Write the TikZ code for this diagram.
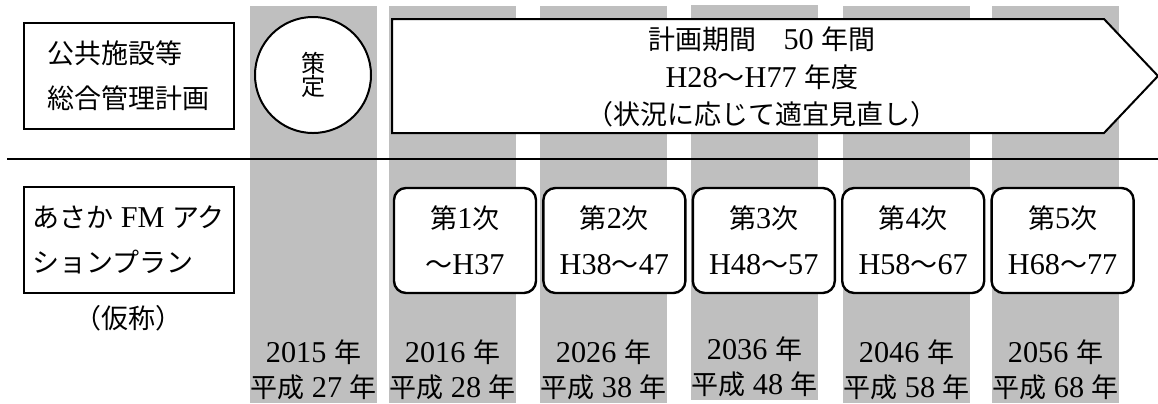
\documentclass[tikz,border=0pt]{standalone}
\usepackage{fontspec}
\setmainfont{Liberation Serif}[Scale=1.12]
\newfontfamily\jp{Noto Sans CJK JP}
\usetikzlibrary{positioning}

\begin{document}
\begin{tikzpicture}[x=0.5pt,y=-0.5pt,
  band/.style={fill=black!25},
  sidebox/.style={draw,line width=1pt,minimum width=105pt,minimum height=53pt,align=left,font=\fontsize{13.5}{22.5}\selectfont},
  stagebox/.style={draw,line width=1.2pt,rounded corners=6pt,minimum width=71pt,minimum height=52.5pt,align=center,font=\fontsize{13.5}{23}\selectfont},
  yearlabel/.style={align=center,inner sep=0pt,font=\fontsize{13.5}{17.5}\selectfont}]
 \useasboundingbox (0,0) rectangle (1158,403);
 % gray year columns
 \fill[band] (250,6) rectangle (377,403);
 \fill[band] (389,6) rectangle (516,403);
 \fill[band] (540,6) rectangle (667,403);
 \fill[band] (691,5) rectangle (818,400);
 \fill[band] (843,6) rectangle (970,403);
 \fill[band] (992,6) rectangle (1119,403);
 % upper row
 \node[sidebox] (plan) at (128.5,76) {{\jp 公共施設等}\\{\jp 総合管理計画}};
 \node[draw,circle,fill=white,line width=1pt,minimum size=58pt,inner sep=0pt,align=center,font=\fontsize{12}{11.5}\selectfont] (sakutei) at (313,75) {{\jp 策}\\{\jp 定}};
 \draw[line width=1pt,fill=white](392,19)--(1104,19)--(1158,76)--(1104,133)--(392,133)--cycle;
 \node[align=center,font=\fontsize{13.5}{18.75}\selectfont] (period) at (762,77)
   {{\jp 計画期間　}50 {\jp 年間}\\H28{\jp ～}H77 {\jp 年度}\\{\jp （状況に応じて適宜見直し）}};
 \draw[line width=1pt] (7,159) -- (1158,159);
 % lower row
 \node[sidebox] (fmplan) at (128.5,240) {{\jp あさか} FM {\jp アク}\\{\jp ションプラン}};
 \node[below=2pt of fmplan,font=\fontsize{13.5}{16}\selectfont] (kasho) {{\jp （仮称）}};
 \node[stagebox,fill=white] (st1) at (465,240.5) {{\jp 第}1{\jp 次}\\{\jp ～}H37};
 \node[stagebox,fill=white,right=2.5pt of st1] (st2) {{\jp 第}2{\jp 次}\\H38{\jp ～}47};
 \node[stagebox,fill=white,right=2.5pt of st2] (st3) {{\jp 第}3{\jp 次}\\H48{\jp ～}57};
 \node[stagebox,fill=white,right=2.5pt of st3] (st4) {{\jp 第}4{\jp 次}\\H58{\jp ～}67};
 \node[stagebox,fill=white,right=2.5pt of st4] (st5) {{\jp 第}5{\jp 次}\\H68{\jp ～}77};
 % years
 \node[yearlabel] (y2015) at (313.5,369.5) {2015 {\jp 年}\\{\jp 平成} 27 {\jp 年}};
 \node[yearlabel] (y2016) at (452.5,369.5) {2016 {\jp 年}\\{\jp 平成} 28 {\jp 年}};
 \node[yearlabel] (y2026) at (603.5,369.5) {2026 {\jp 年}\\{\jp 平成} 38 {\jp 年}};
 \node[yearlabel] (y2036) at (754.5,367) {2036 {\jp 年}\\{\jp 平成} 48 {\jp 年}};
 \node[yearlabel] (y2046) at (906.5,369.5) {2046 {\jp 年}\\{\jp 平成} 58 {\jp 年}};
 \node[yearlabel] (y2056) at (1055.5,369.5) {2056 {\jp 年}\\{\jp 平成} 68 {\jp 年}};
\end{tikzpicture}
\end{document}
